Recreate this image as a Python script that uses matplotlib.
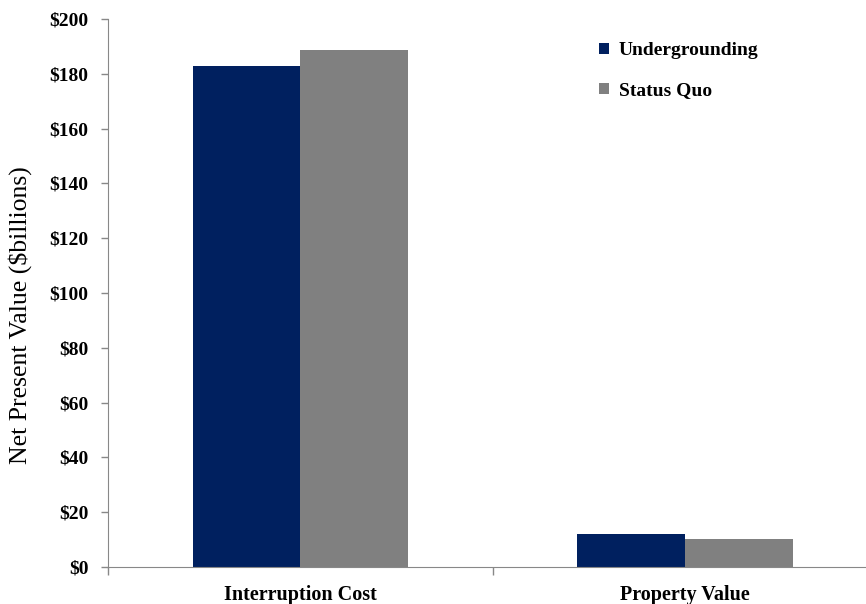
import numpy as np
import matplotlib.pyplot as plt
from matplotlib.ticker import FixedLocator, FuncFormatter

categories = ["Interruption Cost", "Property Value"]
undergrounding = [182.8, 11.9]
status_quo = [188.7, 10.2]

plt.rcParams['font.family'] = ['Liberation Serif', 'DejaVu Serif']
plt.rcParams['font.weight'] = 'bold'

fig = plt.figure(figsize=(8.66, 6.04), dpi=100)
ax = fig.add_axes([0.1247, 0.0613, 0.8753, 0.9072])

x = np.arange(len(categories))
w = 0.28
ax.bar(x - w / 2, undergrounding, w, color='#00205F', label='Undergrounding')
ax.bar(x + w / 2, status_quo, w, color='#808080', label='Status Quo')

ax.set_xlim(-0.5, 1.47)
ax.set_ylim(0, 200)
ax.set_yticks(np.arange(0, 201, 20))
ax.yaxis.set_major_formatter(FuncFormatter(lambda v, p: '$%d' % v))
ax.set_xticks(x)
ax.set_xticklabels(categories)
ax.xaxis.set_minor_locator(FixedLocator([-0.5, 0.5]))
ax.tick_params(axis='x', which='major', length=0, pad=13, labelsize=14.5)
ax.tick_params(axis='x', which='minor', length=6, color='#888888', width=1)
ax.tick_params(axis='y', length=5, color='#888888', width=1, labelsize=14, pad=9)

for s in ['top', 'right']:
    ax.spines[s].set_visible(False)
ax.spines['left'].set_color('#888888')
ax.spines['bottom'].set_color('#888888')

ax.set_ylabel('Net Present Value ($billions)', fontsize=18.5, fontweight='normal')
ax.yaxis.set_label_coords(-0.1, 0.46)

leg = ax.legend(loc='upper left', bbox_to_anchor=(0.625, 0.99), frameon=False,
                handlelength=0.5, handleheight=0.5, handletextpad=0.5,
                labelspacing=1.2, prop={'size': 14, 'weight': 'bold'})

fig.savefig('out.png', dpi=100)
